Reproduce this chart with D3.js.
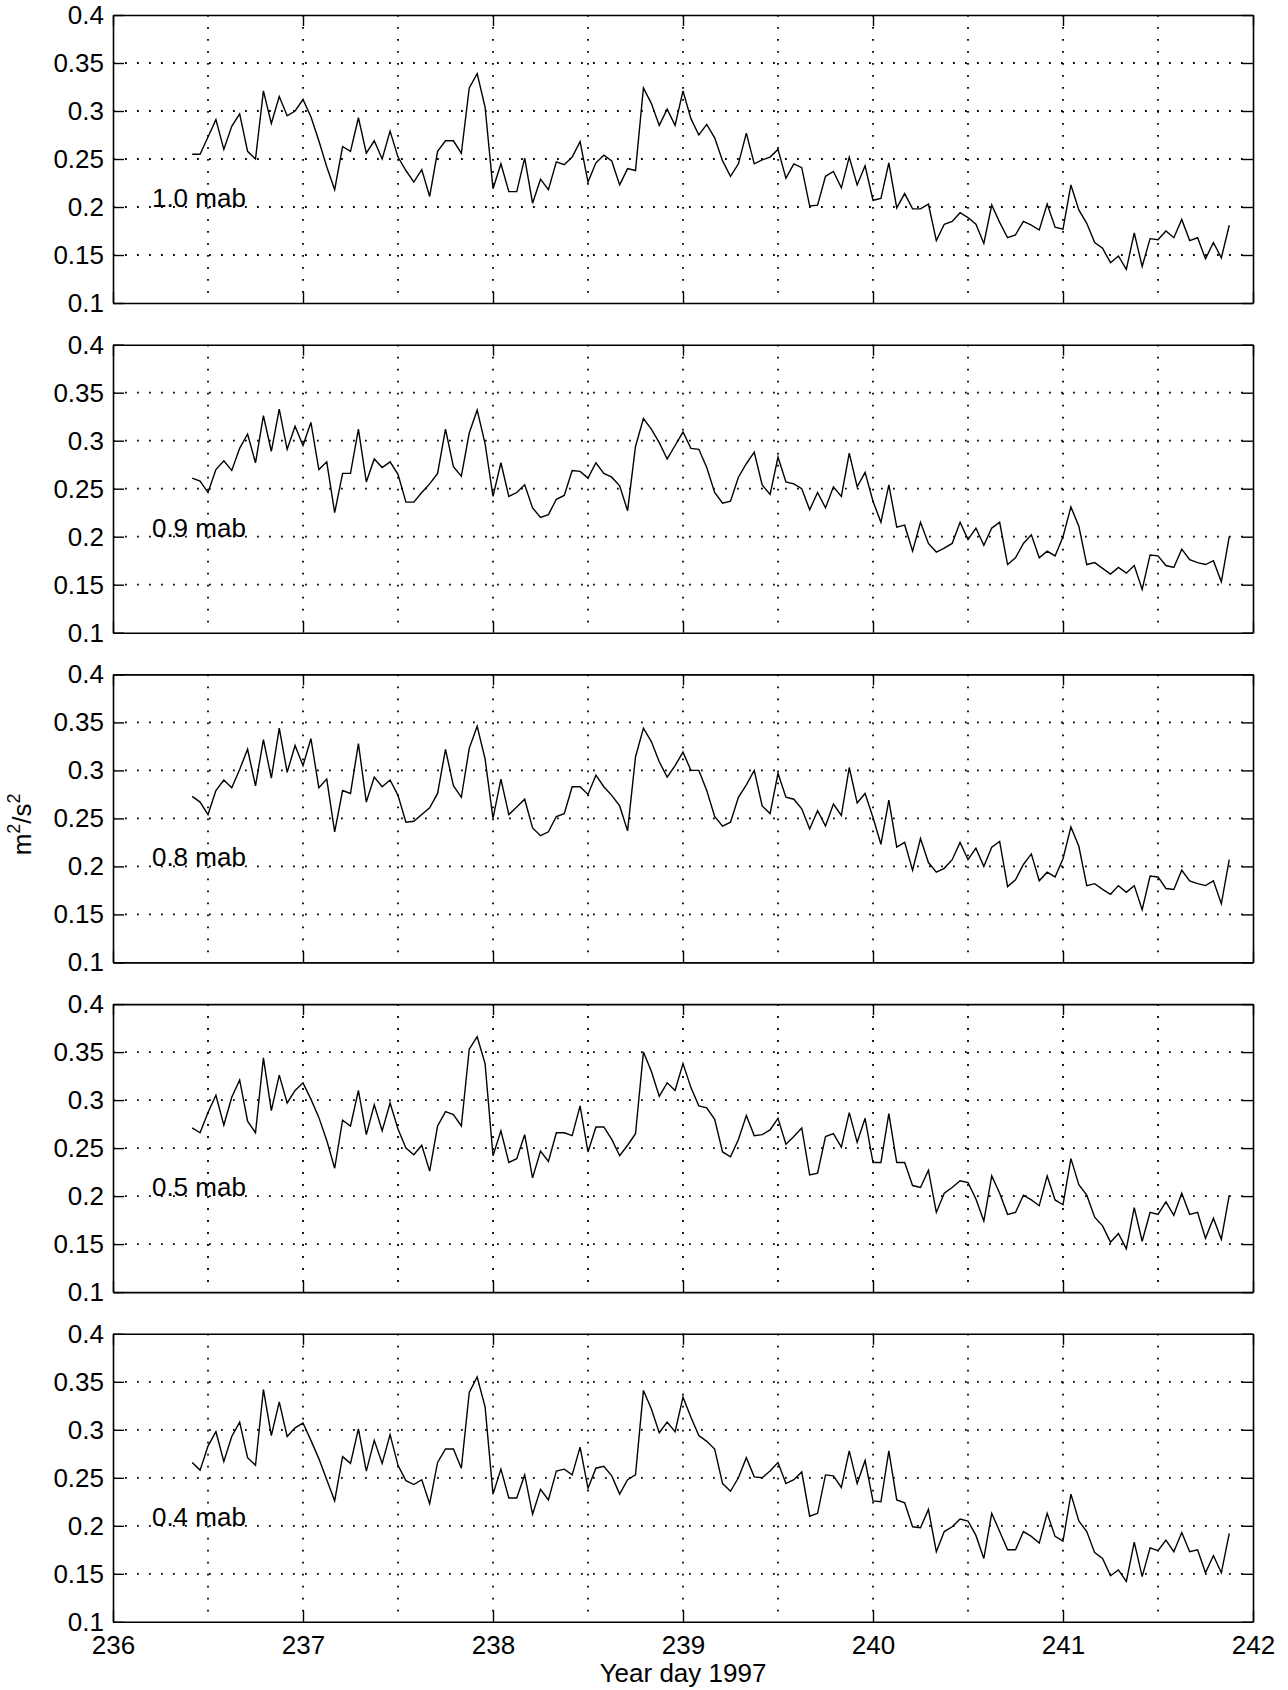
<!DOCTYPE html>
<html>
<head>
<meta charset="utf-8">
<script src="https://cdn.jsdelivr.net/npm/d3@7"></script>
<style>
  body { margin: 0; background: #fff; }
  svg { display: block; font-family: "Liberation Sans", Arial, sans-serif; }
</style>
</head>
<body>
<div id="chart"></div>
<script>
// hourly samples, first one at day 236 10:00
const START_DAY = 236 + 10 / 24;
const STEP_DAYS = 1 / 24;

const mab10 = [0.255,0.255,0.273,0.291,0.260,0.284,0.297,0.258,0.250,0.321,0.287,0.315,0.295,0.300,0.312,0.294,0.269,0.242,0.218,0.263,
  0.258,0.293,0.256,0.269,0.250,0.279,0.252,0.238,0.226,0.239,0.211,0.258,0.269,0.269,0.256,0.324,0.339,0.304,0.219,0.245,
  0.216,0.216,0.251,0.204,0.229,0.218,0.247,0.244,0.252,0.268,0.226,0.246,0.254,0.248,0.223,0.240,0.238,0.324,0.308,0.285,
  0.302,0.285,0.321,0.292,0.275,0.286,0.272,0.248,0.232,0.245,0.277,0.245,0.249,0.252,0.260,0.230,0.245,0.241,0.201,0.202,
  0.232,0.237,0.220,0.252,0.223,0.243,0.207,0.209,0.246,0.199,0.214,0.198,0.198,0.203,0.165,0.182,0.185,0.194,0.189,0.182,
  0.162,0.202,0.184,0.168,0.171,0.185,0.181,0.176,0.203,0.179,0.177,0.223,0.197,0.183,0.163,0.157,0.142,0.149,0.135,0.173,
  0.138,0.167,0.166,0.175,0.168,0.187,0.165,0.168,0.146,0.163,0.147,0.181];

const mab09 = [0.261,0.258,0.246,0.270,0.279,0.269,0.292,0.307,0.277,0.326,0.289,0.333,0.291,0.315,0.295,0.319,0.270,0.278,0.225,0.266,
  0.266,0.312,0.257,0.281,0.272,0.278,0.265,0.236,0.236,0.246,0.255,0.266,0.312,0.273,0.263,0.308,0.332,0.297,0.242,0.277,
  0.242,0.246,0.254,0.230,0.220,0.223,0.239,0.243,0.269,0.268,0.261,0.277,0.266,0.262,0.253,0.227,0.294,0.323,0.312,0.298,
  0.281,0.295,0.309,0.292,0.291,0.272,0.246,0.235,0.237,0.262,0.276,0.288,0.254,0.244,0.283,0.257,0.255,0.250,0.228,0.246,
  0.230,0.252,0.242,0.287,0.252,0.267,0.237,0.215,0.254,0.210,0.212,0.185,0.215,0.193,0.184,0.188,0.193,0.215,0.197,0.209,
  0.191,0.209,0.215,0.171,0.178,0.193,0.202,0.178,0.185,0.180,0.200,0.231,0.211,0.171,0.173,0.167,0.161,0.168,0.162,0.170,
  0.145,0.181,0.180,0.170,0.168,0.187,0.176,0.173,0.171,0.175,0.153,0.200];

const mab08 = [0.273,0.267,0.254,0.279,0.290,0.282,0.301,0.322,0.284,0.332,0.292,0.344,0.298,0.326,0.305,0.333,0.282,0.291,0.236,0.279,
  0.276,0.328,0.267,0.293,0.283,0.290,0.274,0.246,0.247,0.254,0.261,0.276,0.322,0.284,0.272,0.323,0.346,0.312,0.250,0.291,
  0.254,0.262,0.270,0.240,0.232,0.236,0.252,0.255,0.283,0.283,0.275,0.295,0.283,0.274,0.263,0.237,0.314,0.344,0.330,0.309,
  0.293,0.305,0.319,0.300,0.300,0.279,0.252,0.242,0.246,0.272,0.285,0.300,0.263,0.255,0.297,0.272,0.270,0.260,0.239,0.258,
  0.242,0.265,0.253,0.303,0.266,0.276,0.251,0.223,0.269,0.220,0.225,0.196,0.229,0.204,0.194,0.198,0.207,0.225,0.207,0.219,
  0.200,0.220,0.226,0.179,0.186,0.202,0.213,0.185,0.194,0.189,0.208,0.241,0.221,0.180,0.182,0.176,0.171,0.180,0.173,0.180,
  0.155,0.190,0.189,0.177,0.176,0.196,0.185,0.182,0.180,0.185,0.161,0.207];

const mab05 = [0.271,0.266,0.287,0.305,0.274,0.303,0.321,0.278,0.266,0.344,0.289,0.326,0.297,0.310,0.318,0.301,0.282,0.258,0.229,0.279,
  0.273,0.310,0.264,0.295,0.268,0.297,0.270,0.250,0.243,0.253,0.226,0.273,0.288,0.285,0.273,0.353,0.366,0.338,0.242,0.268,
  0.235,0.239,0.264,0.219,0.247,0.236,0.266,0.266,0.263,0.294,0.246,0.272,0.272,0.259,0.242,0.253,0.265,0.350,0.330,0.304,
  0.318,0.310,0.338,0.313,0.294,0.292,0.280,0.246,0.241,0.259,0.284,0.263,0.264,0.269,0.281,0.254,0.262,0.271,0.222,0.224,
  0.262,0.265,0.251,0.287,0.256,0.281,0.235,0.235,0.286,0.235,0.235,0.211,0.209,0.227,0.183,0.203,0.209,0.216,0.214,0.197,
  0.174,0.221,0.203,0.181,0.183,0.201,0.196,0.190,0.221,0.196,0.191,0.239,0.212,0.201,0.178,0.169,0.152,0.161,0.145,0.188,
  0.153,0.183,0.181,0.194,0.180,0.203,0.181,0.183,0.156,0.177,0.155,0.201];

const mab04 = [0.266,0.258,0.283,0.298,0.267,0.293,0.308,0.271,0.263,0.342,0.294,0.329,0.293,0.302,0.307,0.289,0.270,0.248,0.226,0.272,
  0.265,0.301,0.257,0.289,0.265,0.295,0.263,0.247,0.243,0.248,0.223,0.266,0.280,0.280,0.260,0.339,0.355,0.324,0.233,0.259,
  0.229,0.229,0.253,0.212,0.238,0.227,0.257,0.259,0.253,0.282,0.239,0.260,0.262,0.252,0.233,0.248,0.253,0.341,0.322,0.297,
  0.308,0.298,0.334,0.313,0.294,0.288,0.280,0.244,0.236,0.250,0.271,0.251,0.250,0.257,0.266,0.244,0.248,0.256,0.210,0.213,
  0.253,0.252,0.240,0.278,0.244,0.268,0.226,0.225,0.278,0.227,0.224,0.199,0.198,0.217,0.173,0.194,0.199,0.207,0.205,0.190,
  0.166,0.213,0.194,0.175,0.175,0.194,0.189,0.182,0.213,0.189,0.184,0.233,0.205,0.194,0.172,0.166,0.148,0.154,0.142,0.183,
  0.147,0.177,0.174,0.185,0.173,0.193,0.173,0.175,0.151,0.169,0.151,0.192];

const SERIES = [mab10, mab09, mab08, mab05, mab04];
const PANEL_LABELS = ["1.0 mab", "0.9 mab", "0.8 mab", "0.5 mab", "0.4 mab"];

const X_TICKS = [236, 237, 238, 239, 240, 241, 242];
const X_TICK_LABELS = ["236", "237", "238", "239", "240", "241", "242"];
const X_GRID = [236.5, 237, 237.5, 238, 238.5, 239, 239.5, 240, 240.5, 241, 241.5];
const Y_TICKS = [0.1, 0.15, 0.2, 0.25, 0.3, 0.35, 0.4];
const Y_TICK_LABELS = ["0.1", "0.15", "0.2", "0.25", "0.3", "0.35", "0.4"];
const Y_GRID = [0.15, 0.2, 0.25, 0.3, 0.35];

const FRAME_WIDTH = 1288;
const FRAME_HEIGHT = 1690;
const LEFT = 113, RIGHT = 1253;
const TOP = 15, PANEL_H = 288, PANEL_STEP = 329.7;
const FONT = 26;
const TICK = 11;

const svg = d3.select("#chart").append("svg")
    .attr("width", FRAME_WIDTH)
    .attr("height", FRAME_HEIGHT);

const X_SCALE = d3.scaleLinear().domain([236, 242]).range([0, RIGHT - LEFT]);
const Y_SCALE = d3.scaleLinear().domain([0.1, 0.4]).range([PANEL_H, 0]);

const line = d3.line()
    .x((d, i) => X_SCALE(START_DAY + i * STEP_DAYS))
    .y(d => Y_SCALE(d));

SERIES.forEach((values, p) => {
    const g = svg.append("g")
        .attr("transform", `translate(${LEFT},${TOP + p * PANEL_STEP})`);

    // dotted grid
    g.selectAll(".vgrid").data(X_GRID).enter().append("line")
        .attr("x1", d => X_SCALE(d)).attr("x2", d => X_SCALE(d))
        .attr("y1", 0).attr("y2", PANEL_H)
        .attr("stroke", "#000").attr("stroke-width", 1.8)
        .attr("stroke-dasharray", "1.8,10.2");
    g.selectAll(".hgrid").data(Y_GRID).enter().append("line")
        .attr("x1", 0).attr("x2", X_SCALE(242))
        .attr("y1", d => Y_SCALE(d)).attr("y2", d => Y_SCALE(d))
        .attr("stroke", "#000").attr("stroke-width", 1.8)
        .attr("stroke-dasharray", "1.8,10.2");

    // axes, ticks pointing in like matlab
    const isLast = p === SERIES.length - 1;
    g.append("g")
        .call(d3.axisLeft(Y_SCALE).tickValues(Y_TICKS)
            .tickFormat((d, i) => Y_TICK_LABELS[i])
            .tickSizeInner(-TICK).tickSizeOuter(0).tickPadding(9));
    g.append("g")
        .attr("transform", `translate(${X_SCALE(242)},0)`)
        .call(d3.axisRight(Y_SCALE).tickValues(Y_TICKS).tickFormat("")
            .tickSizeInner(-TICK).tickSizeOuter(0));
    g.append("g")
        .call(d3.axisTop(X_SCALE).tickValues(X_TICKS).tickFormat("")
            .tickSizeInner(-TICK).tickSizeOuter(0));
    g.append("g")
        .attr("transform", `translate(0,${PANEL_H})`)
        .call(d3.axisBottom(X_SCALE).tickValues(X_TICKS)
            .tickFormat((d, i) => isLast ? X_TICK_LABELS[i] : "")
            .tickSizeInner(-TICK).tickSizeOuter(0).tickPadding(14));

    g.selectAll(".domain").attr("stroke", "#000").attr("stroke-width", 1.6);
    g.selectAll(".tick line").attr("stroke", "#000").attr("stroke-width", 1.4);
    g.selectAll(".tick text")
        .attr("fill", "#000")
        .attr("font-size", FONT)
        .attr("font-family", "Liberation Sans, Arial, sans-serif");

    // the series
    g.append("path")
        .datum(values)
        .attr("fill", "none")
        .attr("stroke", "#000")
        .attr("stroke-width", 1.4)
        .attr("d", line);

    g.append("text")
        .attr("x", X_SCALE(236.205))
        .attr("y", Y_SCALE(0.2))
        .attr("font-size", FONT)
        .text(PANEL_LABELS[p]);
});

// axis titles
const lastBottom = TOP + 4 * PANEL_STEP + PANEL_H;
svg.append("text")
    .attr("x", LEFT + X_SCALE(239))
    .attr("y", lastBottom + 60)
    .attr("text-anchor", "middle")
    .attr("font-size", FONT)
    .text("Year day 1997");

const ylab = svg.append("text")
    .attr("transform", `translate(31,${TOP + 2 * PANEL_STEP + PANEL_H / 2 + 6}) rotate(-90)`)
    .attr("text-anchor", "middle")
    .attr("font-size", FONT);
ylab.append("tspan").text("m");
ylab.append("tspan").attr("font-size", 18).attr("dy", -11).text("2");
ylab.append("tspan").attr("dy", 11).text("/s");
ylab.append("tspan").attr("font-size", 18).attr("dy", -11).text("2");
</script>
</body>
</html>
